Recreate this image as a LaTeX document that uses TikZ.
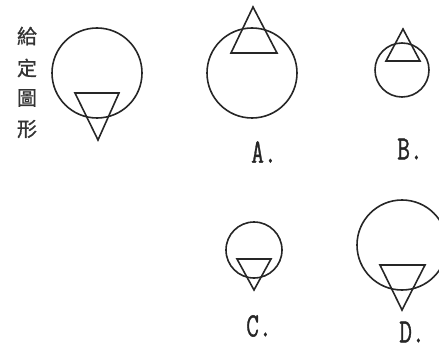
\documentclass[tikz,border=0pt]{standalone}
\usepackage{fontspec}
\newfontfamily\cjk[FakeBold=0.8]{Noto Sans CJK TC}
\newfontfamily\lblfont[FakeBold=1.2]{Latin Modern Mono}
\begin{document}
\begin{tikzpicture}[x=1pt,y=-1pt,
  shape line/.style={line width=1.6pt, draw=black!85, line join=miter},
  optlabel/.style={font=\lblfont\fontsize{31}{31}\selectfont, inner sep=0pt, text=black!85},
  cjkchar/.style={font=\cjk\fontsize{20}{20}\selectfont, inner sep=0pt, text=black!80}]
\useasboundingbox (0,0) rectangle (439,350);
\clip (0,0) rectangle (439,350);
% given figure label
\node[cjkchar] (g1) at (27,36) {給};
\node[cjkchar] (g2) at (27,68) {定};
\node[cjkchar] (g3) at (27,98) {圖};
\node[cjkchar] (g4) at (27,129) {形};
% given figure
\draw[shape line] (97,73) circle (45);
\draw[shape line] (75,93) -- (119,93) -- (98,140) -- cycle;
% A
\draw[shape line] (252,73) circle (45);
\draw[shape line] (231,53) -- (277,53) -- (253,7) -- cycle;
\node[optlabel] (la) at (264,152) {\scalebox{0.8}[1.1]{A.}};
% B
\draw[shape line] (402,70) circle (27);
\draw[shape line] (386,61) -- (420,61) -- (403,29) -- cycle;
\node[optlabel] (lb) at (410,149) {\scalebox{0.8}[1.1]{B.}};
% C
\draw[shape line] (254,250) circle (28);
\draw[shape line] (237,259) -- (271,259) -- (254,290) -- cycle;
\node[optlabel] (lc) at (259,326) {\scalebox{0.8}[1.1]{C.}};
% D
\draw[shape line] (402,245) circle (45);
\draw[shape line] (380,265) -- (425,265) -- (402,310) -- cycle;
\node[optlabel] (ld) at (412,332) {\scalebox{0.8}[1.1]{D.}};
\end{tikzpicture}
\end{document}
